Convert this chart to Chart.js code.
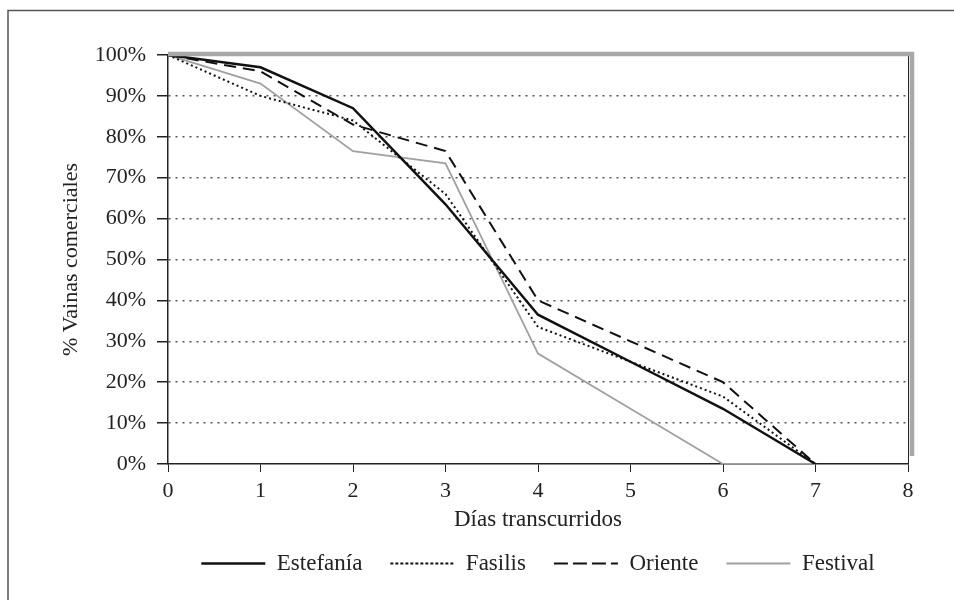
<!DOCTYPE html>
<html>
<head>
<meta charset="utf-8">
<script src="https://cdn.jsdelivr.net/npm/chart.js@4"></script>
<style>
  html, body { margin: 0; padding: 0; background: #fff; }
  #wrap { width: 954px; height: 600px; }
</style>
</head>
<body>
<div id="wrap"><canvas id="chart" width="954" height="600"></canvas></div>
<script>
/* datos */
const dias = [0, 1, 2, 3, 4, 5, 6, 7];
const estefania = [100, 97, 87, 63.5, 36.5, 25, 13.5, 0];
const fasilis = [100, 90, 84, 66, 33.5, 25, 16.5, 0];
const oriente = [100, 96, 83, 76.5, 40, 30, 20, 0];
const festival = [100, 93, 76.5, 73.5, 27, 13.5, 0, 0];

const puntos = (valores) => valores.map((v, i) => ({ x: dias[i], y: v }));

const fuente = "'Liberation Serif', 'Times New Roman', serif";
const texto = "#222";

// marco exterior y borde gris del area de trazado
const marcos = {
  id: "marcos",
  beforeDraw(chart) {
    const ctx = chart.ctx;
    ctx.save();
    ctx.strokeStyle = "#555";
    ctx.lineWidth = 1.5;
    ctx.beginPath();
    ctx.moveTo(8, 600);
    ctx.lineTo(8, 10.5);
    ctx.lineTo(954, 10.5);
    ctx.stroke();
    ctx.restore();
  },
  afterDatasetsDraw(chart) {
    const { ctx, chartArea: a } = chart;
    ctx.save();
    ctx.strokeStyle = "#222";
    ctx.lineWidth = 1;
    ctx.beginPath();
    ctx.moveTo(a.right + 0.5, a.top);
    ctx.lineTo(a.right + 0.5, a.bottom);
    ctx.stroke();
    ctx.strokeStyle = "#a8a8a8";
    ctx.lineWidth = 4.5;
    ctx.beginPath();
    ctx.moveTo(a.left, a.top - 1);
    ctx.lineTo(a.right + 4, a.top - 1);
    ctx.lineTo(a.right + 4, a.bottom - 8);
    ctx.stroke();
    ctx.restore();
  },
};

const config = {
  type: "line",
  data: {
    datasets: [
      {
        label: "Estefanía",
        data: puntos(estefania),
        borderColor: "#111",
        backgroundColor: "transparent",
        borderWidth: 2.5,
      },
      {
        label: "Fasilis",
        data: puntos(fasilis),
        borderColor: "#111",
        backgroundColor: "transparent",
        borderWidth: 2,
        borderDash: [2, 3],
      },
      {
        label: "Oriente",
        data: puntos(oriente),
        borderColor: "#111",
        backgroundColor: "transparent",
        borderWidth: 2,
        borderDash: [12, 7],
      },
      {
        label: "Festival",
        data: puntos(festival),
        borderColor: "#a0a0a0",
        backgroundColor: "transparent",
        borderWidth: 1.8,
      },
    ],
  },
  options: {
    responsive: false,
    animation: false,
    events: [],
    elements: {
      point: { radius: 0 },
      line: { tension: 0, borderCapStyle: "butt" },
    },
    layout: {
      padding: { left: 0, right: 46, top: 55, bottom: 15 },
    },
    plugins: {
      legend: {
        position: "bottom",
        fullSize: false,
        labels: {
          color: texto,
          font: { family: fuente, size: 23 },
          boxWidth: 64,
          boxHeight: 0,
          padding: 28,
        },
      },
      tooltip: { enabled: false },
    },
    scales: {
      x: {
        type: "linear",
        min: 0,
        max: 8,
        afterFit: (scale) => {
          scale.height = 60;
        },
        ticks: {
          stepSize: 1,
          color: texto,
          font: { family: fuente, size: 22 },
          padding: 6,
        },
        grid: {
          drawOnChartArea: false,
          tickLength: 8,
          tickColor: "#222",
        },
        border: { color: "#222", width: 1.5 },
        title: {
          display: true,
          text: "Días transcurridos",
          color: texto,
          font: { family: fuente, size: 23 },
          padding: { top: 0, bottom: -10 },
        },
      },
      y: {
        min: 0,
        max: 100,
        afterFit: (scale) => {
          scale.width = 168;
        },
        ticks: {
          stepSize: 10,
          color: texto,
          font: { family: fuente, size: 22 },
          padding: 11,
          callback: (v) => v + "%",
        },
        grid: {
          color: (c) => (c.tick.value === 0 || c.tick.value === 100 ? "transparent" : "#555"),
          lineWidth: 1.5,
          tickLength: 11,
          tickColor: "#222",
          tickBorderDash: [],
        },
        border: { color: "#222", width: 1.5, dash: [2, 5] },
        title: {
          display: true,
          text: "% Vainas comerciales",
          color: texto,
          font: { family: fuente, size: 22 },
          padding: { top: 58, bottom: 0 },
        },
      },
    },
  },
  plugins: [marcos],
};

new Chart(document.getElementById("chart").getContext("2d"), config);
</script>
</body>
</html>
